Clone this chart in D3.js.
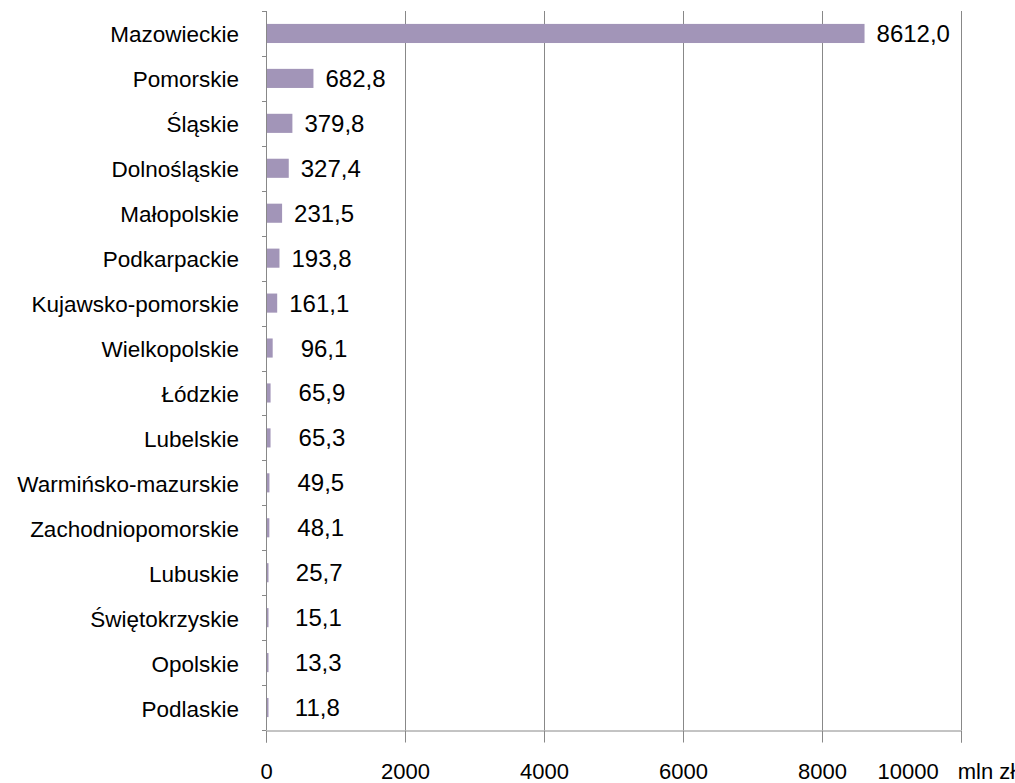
<!DOCTYPE html>
<html>
<head>
<meta charset="utf-8">
<script src="https://cdn.jsdelivr.net/npm/d3@7"></script>
<style>
  body { margin: 0; background: #fff; }
  svg { display: block; }
  .cat-label { font-family: "Liberation Sans", Arial, sans-serif; font-size: 22.5px; fill: #000; }
  .val-label { font-family: "Liberation Sans", Arial, sans-serif; font-size: 24px; fill: #000; }
  .x-axis text { font-family: "Liberation Sans", Arial, sans-serif; font-size: 22px; fill: #000; }
</style>
</head>
<body>
<div id="chart"></div>
<script>
var regions = ['Mazowieckie', 'Pomorskie', 'Śląskie', 'Dolnośląskie', 'Małopolskie',
    'Podkarpackie', 'Kujawsko-pomorskie', 'Wielkopolskie', 'Łódzkie', 'Lubelskie',
    'Warmińsko-mazurskie', 'Zachodniopomorskie', 'Lubuskie', 'Świętokrzyskie',
    'Opolskie', 'Podlaskie'];
var values = [8612.0, 682.8, 379.8, 327.4, 231.5, 193.8, 161.1, 96.1, 65.9, 65.3,
    49.5, 48.1, 25.7, 15.1, 13.3, 11.8];
var xTicks = [0, 2000, 4000, 6000, 8000, 10000];
var unit = 'mln zł';

var width = 1015, height = 783;
var margin = {top: 11, right: 54, bottom: 53, left: 266};
var innerW = width - margin.left - margin.right;
var innerH = height - margin.top - margin.bottom;

var axisColor = '#888888';
var barColor = '#a295b8';

var svg = d3.select('#chart').append('svg')
    .attr('width', width)
    .attr('height', height);

var g = svg.append('g')
    .attr('transform', 'translate(' + margin.left + ',' + margin.top + ')');

var x = d3.scaleLinear().domain([0, 10000]).range([0, innerW]);
var y = d3.scaleBand().domain(regions).range([0, innerH]).paddingInner(0.575).paddingOuter(0.2875);

var fmt = function(v) { return d3.format('.1f')(v).replace('.', ','); };

// vertical gridlines
g.selectAll('.grid')
    .data(xTicks.slice(1))
    .enter().append('line')
    .attr('class', 'grid')
    .attr('x1', function(d) { return Math.round(x(d)) + 0.5; })
    .attr('x2', function(d) { return Math.round(x(d)) + 0.5; })
    .attr('y1', 0)
    .attr('y2', innerH)
    .attr('stroke', axisColor)
    .attr('stroke-width', 1);

// x axis
var xAxis = g.append('g')
    .attr('class', 'x-axis')
    .attr('transform', 'translate(0,' + (Math.round(innerH) + 0.5) + ')')
    .call(d3.axisBottom(x).tickValues(xTicks).tickSize(12).tickPadding(21)
        .tickFormat(function(d) { return d; }));
xAxis.select('.domain').attr('stroke', axisColor);
xAxis.selectAll('.tick line').attr('stroke', axisColor);
xAxis.selectAll('.tick').attr('transform', function(d) {
    return 'translate(' + (Math.round(x(d)) + 0.5) + ',0)';
});

// last tick gets the unit after it
xAxis.selectAll('.tick text')
    .filter(function(d) { return d === xTicks[xTicks.length - 1]; })
    .each(function(d) {
        var t = d3.select(this);
        t.attr('text-anchor', 'start').attr('x', -84);
        t.append('tspan').attr('dx', 19).text(unit);
    });

// y axis line and category ticks
g.append('line')
    .attr('x1', 0.5).attr('x2', 0.5)
    .attr('y1', 0).attr('y2', innerH)
    .attr('stroke', axisColor);

g.selectAll('.ytick')
    .data(d3.range(regions.length + 1))
    .enter().append('line')
    .attr('class', 'ytick')
    .attr('x1', -4).attr('x2', 0)
    .attr('y1', function(i) { return Math.round(i * y.step()) + 0.5; })
    .attr('y2', function(i) { return Math.round(i * y.step()) + 0.5; })
    .attr('stroke', axisColor);

// bars
g.selectAll('.bar')
    .data(values)
    .enter().append('rect')
    .attr('class', 'bar')
    .attr('x', 1)
    .attr('y', function(d, i) { return y(regions[i]); })
    .attr('width', function(d) { return Math.max(x(d) - 1, 1.5); })
    .attr('height', y.bandwidth())
    .attr('fill', barColor);

// category labels
g.selectAll('.cat-label')
    .data(regions)
    .enter().append('text')
    .attr('class', 'cat-label')
    .attr('text-anchor', 'end')
    .attr('x', -27)
    .attr('y', function(d) { return y(d) + y.bandwidth() / 2 + 9; })
    .text(function(d) { return d; });

// value labels (padded like a fixed-width number format)
g.selectAll('.val-label')
    .data(values)
    .enter().append('text')
    .attr('class', 'val-label')
    .attr('x', function(d) {
        var intDigits = String(Math.floor(d)).length;
        var pad = intDigits >= 3 ? 0 : (3 - intDigits) * 16;
        return x(d) + 12 + pad;
    })
    .attr('y', function(d, i) { return y(regions[i]) + y.bandwidth() / 2 + 8.5; })
    .text(function(d) { return fmt(d); });
</script>
</body>
</html>
